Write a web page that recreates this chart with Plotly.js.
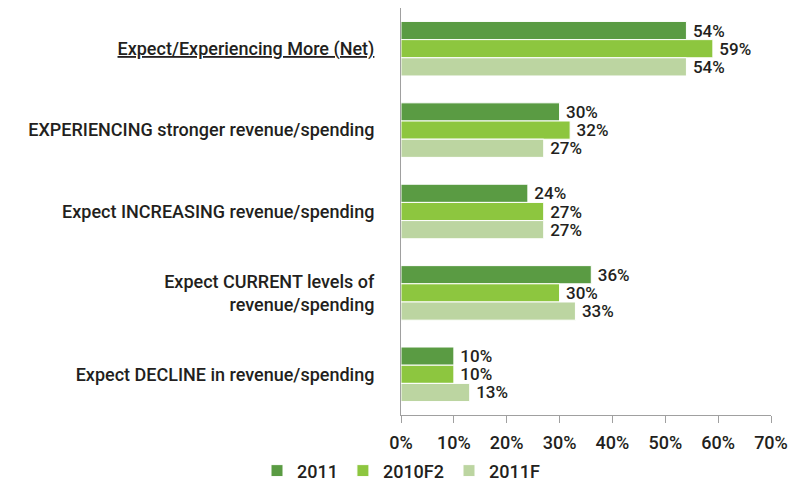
<!DOCTYPE html>
<html><head><meta charset="utf-8">
<script src="https://cdn.plot.ly/plotly-3.0.1.min.js"></script>
<style>html,body{margin:0;padding:0;background:#fff}</style>
</head><body>
<div id="chart" style="width:804px;height:488px"></div>
<script>
const categories = [
  '<span style="text-decoration:underline">Expect/Experiencing More (Net)</span>',
  'EXPERIENCING stronger revenue/spending',
  'Expect INCREASING revenue/spending',
  'Expect CURRENT levels of<br>revenue/spending',
  'Expect DECLINE in revenue/spending'
];
const seriesNames = ['2011', '2010F2', '2011F'];
const v2011 = [54, 30, 24, 36, 10];
const v2010F2 = [59, 32, 27, 30, 10];
const v2011F = [54, 27, 27, 33, 13];
const tickVals = [0, 10, 20, 30, 40, 50, 60, 70];
const tickText = ['0%', '10%', '20%', '30%', '40%', '50%', '60%', '70%'];

const colors = ['#5a9b43', '#8dc63f', '#bcd5a1'];
const font = 'Roboto, Open Sans, sans-serif';
const data = [v2011, v2010F2, v2011F].map((vals, i) => ({
  type: 'bar', orientation: 'h', name: seriesNames[i],
  y: categories, x: vals,
  marker: {color: colors[i], line: {color: '#ffffff', width: 1}},
  text: vals.map(v => '\u2009' + v + '%'), textposition: 'outside', constraintext: 'none',
  textfont: {size: 17, color: '#231f20', family: font, weight: 500},
  cliponaxis: false
}));

const layout = {
  width: 804, height: 488,
  margin: {l: 401, r: 33, t: 8, b: 73, autoexpand: false},
  barmode: 'group', bargap: 0.33, bargroupgap: 0,
  paper_bgcolor: '#fff', plot_bgcolor: '#fff',
  font: {family: font, size: 18, color: '#231f20', weight: 500},
  showlegend: true,
  legend: {orientation: 'h', x: 0, xanchor: 'center', yref: 'container', y: 0.035, yanchor: 'middle',
           traceorder: 'normal', font: {size: 18, weight: 500}, itemwidth: 30},
  xaxis: {range: [0, 70], tickvals: tickVals, ticktext: tickText, showgrid: false,
          zeroline: false, showline: true, linecolor: '#a0a0a0', linewidth: 1,
          ticks: 'outside', ticklen: 7, tickcolor: '#a0a0a0', ticklabelstandoff: 4,
          tickfont: {size: 18, weight: 500}, fixedrange: true},
  yaxis: {autorange: 'reversed', showgrid: false, zeroline: false, showline: true,
          linecolor: '#a0a0a0', linewidth: 1, ticks: '', ticklabelstandoff: 22,
          tickfont: {size: 18, weight: 500}}
};
Plotly.newPlot('chart', data, layout, {displayModeBar: false, staticPlot: true});
</script>
</body></html>
